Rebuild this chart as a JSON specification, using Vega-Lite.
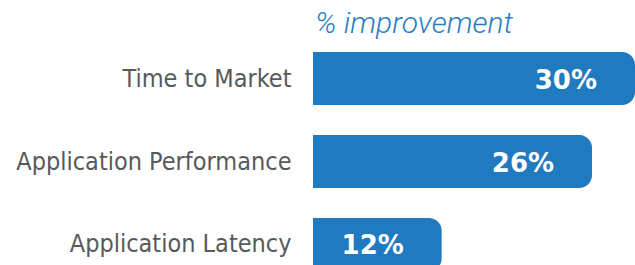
{
  "$schema": "https://vega.github.io/schema/vega-lite/v6.json",
  "autosize": {"type": "none"},
  "padding": {"left": 313, "top": 52, "right": 0, "bottom": 0},
  "width": 322,
  "height": 213,
  "background": "white",
  "title": {
    "text": "% improvement",
    "anchor": "start",
    "frame": "group",
    "font": "Roboto",
    "fontStyle": "italic",
    "fontWeight": 300,
    "fontSize": 30,
    "color": "#2b7dc1",
    "baseline": "alphabetic",
    "offset": -11,
    "dx": 2
  },
  "data": {
    "values": [
      {"category": "Time to Market", "value": 30, "label": "30%"},
      {"category": "Application Performance", "value": 26, "label": "26%"},
      {"category": "Application Latency", "value": 12, "label": "12%"}
    ]
  },
  "encoding": {
    "y": {
      "field": "category",
      "type": "nominal",
      "sort": null,
      "scale": {"range": [0, 219], "paddingInner": 0.361, "paddingOuter": 0},
      "axis": {
        "title": null,
        "domain": false,
        "ticks": false,
        "labelPadding": 22,
        "labelFont": "DejaVu Sans Condensed",
        "labelFontSize": 25,
        "labelColor": "#58595b",
        "labelLimit": 400
      }
    },
    "x": {
      "field": "value",
      "type": "quantitative",
      "scale": {"domain": [0, 30]},
      "axis": null
    }
  },
  "layer": [
    {
      "mark": {"type": "bar", "color": "#1f7abf", "cornerRadiusTopRight": 13, "cornerRadiusBottomRight": 13}
    },
    {
      "mark": {"type": "text", "align": "right", "baseline": "middle", "dx": -38, "dy": 2, "font": "DejaVu Sans", "fontWeight": "bold", "fontSize": 26, "color": "white"},
      "encoding": {"text": {"field": "label"}}
    }
  ],
  "config": {"view": {"stroke": null}}
}
